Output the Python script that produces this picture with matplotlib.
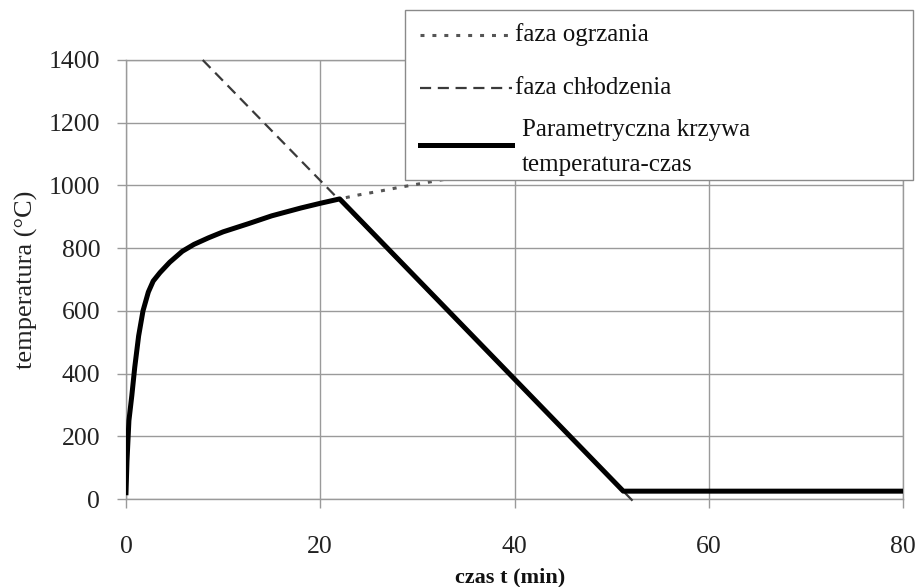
import matplotlib
matplotlib.use("Agg")
import matplotlib.pyplot as plt
from matplotlib.patches import Rectangle
from matplotlib.lines import Line2D

plt.rcParams['font.family'] = ['Liberation Serif', 'DejaVu Serif']

# --- data ---
# heating phase (faza ogrzania)
heat_t = [0, 0.1, 0.3, 0.6, 0.9, 1.3, 1.75, 2.3, 2.8, 3.5, 4.5, 5.8, 7, 8.5, 10, 12.6, 15, 18, 20, 22,
          24, 26, 28, 30, 32, 34]
heat_T = [20, 120, 250, 330, 420, 520, 600, 660, 695, 722, 755, 790, 812, 833, 852, 878, 903, 928, 943, 957,
          970, 981, 993, 1004, 1015, 1026]

# cooling phase (faza chlodzenia)
cool_t = [7.9, 52.3]
cool_T = [1400, -10]

# parametric curve: heating up to the peak, then cooling, then ambient
peak_t = 22
end_cool_t = [22, 51.2, 80]
end_cool_T = [957, 25, 25]

x_ticks = [0, 20, 40, 60, 80]
y_ticks = [0, 200, 400, 600, 800, 1000, 1200, 1400]

labels = ['faza ogrzania', 'faza chłodzenia', 'Parametryczna krzywa', 'temperatura-czas']

W, H = 917, 587
fig = plt.figure(figsize=(W / 100, H / 100), dpi=100)
ax = fig.add_axes([126 / W, 1 - 499 / H, (903 - 126) / W, (499 - 60) / H])

grid_col = '#9a9a9a'
dot_style = dict(color='#555555', lw=2.2, linestyle=(0, (1.3, 2.6)))
dash_style = dict(color='#3a3a3a', lw=1.6, linestyle=(0, (5, 3)))
solid_style = dict(color='black', lw=3.6)

par_t = [t for t in heat_t if t <= peak_t] + end_cool_t[1:]
par_T = [T for t, T in zip(heat_t, heat_T) if t <= peak_t] + end_cool_T[1:]

ax.plot(heat_t, heat_T, zorder=3, **dot_style)
ax.plot(cool_t, cool_T, zorder=3, clip_on=False, **dash_style)
ax.plot(par_t, par_T, zorder=4, solid_joinstyle='round', **solid_style)

ax.set_xlim(0, 80)
ax.set_ylim(0, 1400)
ax.set_xticks(x_ticks)
ax.set_yticks(y_ticks)
ax.grid(True, color=grid_col, lw=1)
ax.set_axisbelow(True)
for s in ax.spines.values():
    s.set_color(grid_col)
    s.set_linewidth(1)
ax.tick_params(axis='both', colors=grid_col, length=6.5, width=1, labelcolor='#222222',
               labelsize=18.5)
ax.tick_params(axis='y', pad=12)
ax.tick_params(axis='x', pad=20)

ax.set_ylabel('temperatura (°C)', fontsize=19, color='#222222', labelpad=8)
ax.set_xlabel('czas t (min)', fontsize=16, fontweight='bold', color='#111111')
ax.xaxis.set_label_coords((510 - 126) / (903 - 126), -(567 - 499) / (499 - 60))

# --- legend box drawn in figure pixel positions (as in the reference) ---
def fx(px):
    return px / W

def fy(py):
    return 1 - py / H

fig.add_artist(Rectangle((fx(405), fy(180)), fx(913) - fx(405), fy(10) - fy(180),
                         transform=fig.transFigure, facecolor='white', edgecolor='#8a8a8a',
                         lw=1, zorder=5))
for py, style in [(35, dot_style), (88, dash_style), (145, solid_style)]:
    fig.add_artist(Line2D([fx(420), fx(512)], [fy(py), fy(py)], transform=fig.transFigure,
                          zorder=6, **style))
for (px, py), txt in zip([(515, 35), (515, 88), (522, 130), (522, 165)], labels):
    fig.text(fx(px), fy(py), txt, fontsize=18, color='#111111', ha='left', va='center',
             zorder=7)

fig.savefig('out.png', dpi=100)
